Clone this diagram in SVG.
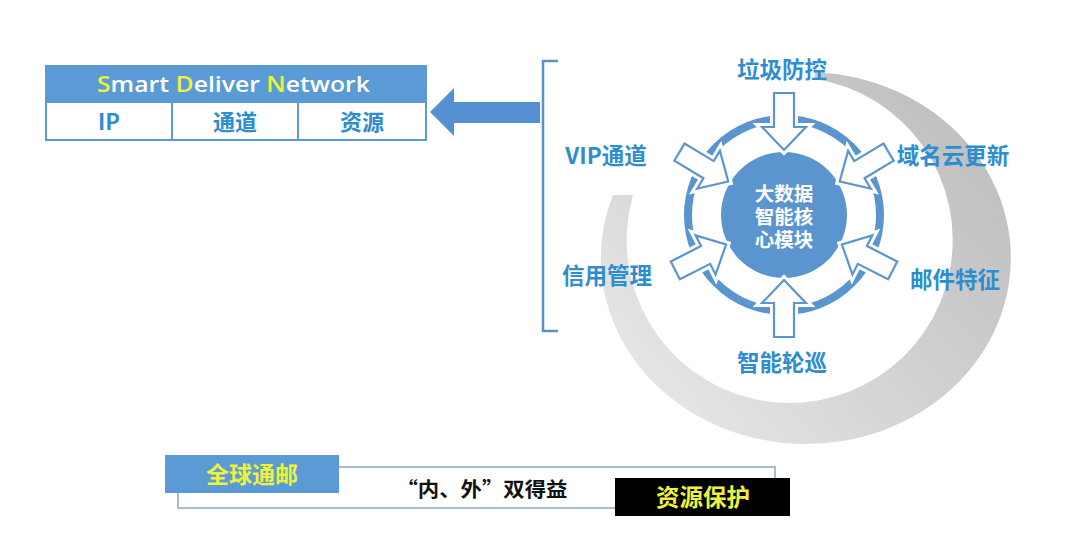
<svg xmlns="http://www.w3.org/2000/svg" xmlns:xlink="http://www.w3.org/1999/xlink" width="1080" height="547" viewBox="0 0 1080 547">
<style>
.cjk{font-family:"Noto Sans CJK SC","Noto Sans",sans-serif;font-weight:700}
.lbl{font-size:22.5px;fill:#2e8dd0;text-anchor:middle}
.cell{font-size:22px;fill:#2e8dd0;text-anchor:middle}
.core{font-size:19.5px;fill:#ffffff;text-anchor:middle}
.halo{fill:#ffffff;stroke:#ffffff;stroke-width:8;stroke-linejoin:miter}
.arr{fill:#ffffff;stroke:#5b95cf;stroke-width:2.2;stroke-linejoin:miter}
.blue{fill:#5b9bd5}
.ylw{fill:#eef23a}
</style>
<defs>
<linearGradient id="cres" gradientUnits="userSpaceOnUse" x1="1000" y1="120" x2="640" y2="440">
<stop offset="0" stop-color="#bdbdbd"/>
<stop offset="0.5" stop-color="#d2d2d2"/>
<stop offset="1" stop-color="#e9e9e9"/>
</linearGradient>
<path id="a" d="M-10,-57 L10,-57 L10,-23 L22,-23 L0,0 L-22,-23 L-10,-23 Z"/>
</defs>
<rect width="1080" height="547" fill="#ffffff"/>

<g id="crescent">
<path d="M815,72.2 A205,186 0 1 1 613,195 L633,195 A163,163 0 1 0 815,78.9 Z" fill="url(#cres)"/>
</g>

<g id="sdn-table">
<rect x="45" y="65" width="382" height="37" class="blue"/>
<rect x="46" y="102" width="380" height="38" fill="#ffffff" stroke="#5b9bd5" stroke-width="2"/>
<line x1="172" y1="102" x2="172" y2="140" stroke="#5b9bd5" stroke-width="2"/>
<line x1="298" y1="102" x2="298" y2="140" stroke="#5b9bd5" stroke-width="2"/>
<text x="97" y="92" textLength="273" lengthAdjust="spacingAndGlyphs" font-family="'Open Sans','DejaVu Sans',sans-serif" font-weight="600" font-size="22" fill="#ffffff"><tspan class="ylw">S</tspan>mart <tspan class="ylw">D</tspan>eliver <tspan class="ylw">N</tspan>etwork</text>
<text x="109" y="130" class="cjk cell">IP</text>
<text x="235" y="130" class="cjk cell">通道</text>
<text x="362" y="130" class="cjk cell">资源</text>
</g>

<g id="connectors">
<path d="M430,112 L454,88 L454,102 L540,102 L540,123 L454,123 L454,136 Z" fill="#5590d2"/>
<path d="M558,61 L543,61 L543,331 L558,331" fill="none" stroke="#5b8fc7" stroke-width="2.5"/>
</g>

<g id="core">
<circle cx="784" cy="215" r="96" fill="none" stroke="#5b95cf" stroke-width="8"/>
<circle cx="784" cy="215" r="63" fill="#5b95cf"/>
<text x="784" y="201" class="cjk core">大数据</text>
<text x="784" y="224" class="cjk core">智能核</text>
<text x="784" y="247" class="cjk core">心模块</text>
</g>

<g id="arrows">
<g transform="translate(784,215) rotate(0) translate(0,-65)"><use xlink:href="#a" class="halo"/><use xlink:href="#a" class="arr"/></g>
<g transform="translate(784,215) rotate(59) translate(0,-65)"><use xlink:href="#a" class="halo"/><use xlink:href="#a" class="arr"/></g>
<g transform="translate(784,215) rotate(117) translate(0,-65)"><use xlink:href="#a" class="halo"/><use xlink:href="#a" class="arr"/></g>
<g transform="translate(784,215) rotate(180) translate(0,-65)"><use xlink:href="#a" class="halo"/><use xlink:href="#a" class="arr"/></g>
<g transform="translate(784,215) rotate(243) translate(0,-65)"><use xlink:href="#a" class="halo"/><use xlink:href="#a" class="arr"/></g>
<g transform="translate(784,215) rotate(301) translate(0,-65)"><use xlink:href="#a" class="halo"/><use xlink:href="#a" class="arr"/></g>
</g>

<g id="labels">
<text x="782" y="78" class="cjk lbl">垃圾防控</text>
<text x="606" y="164" class="cjk lbl">VIP通道</text>
<text x="953" y="164" class="cjk lbl">域名云更新</text>
<text x="607" y="284" class="cjk lbl">信用管理</text>
<text x="955" y="288" class="cjk lbl">邮件特征</text>
<text x="782" y="371" class="cjk lbl">智能轮巡</text>
</g>

<g id="bottom">
<rect x="178" y="467" width="597" height="41" fill="#ffffff" stroke="#a9bccd" stroke-width="2"/>
<rect x="165" y="455" width="174" height="38" class="blue"/>
<text x="252" y="483" class="cjk" font-size="23" fill="#eef23a" text-anchor="middle">全球通邮</text>
<text x="482" y="497" class="cjk" font-size="20" fill="#111111" text-anchor="middle" textLength="171" lengthAdjust="spacingAndGlyphs">“内、外”双得益</text>
<rect x="615" y="478" width="175" height="38" fill="#000000"/>
<text x="703" y="506" class="cjk" font-size="23.5" fill="#eef23a" text-anchor="middle">资源保护</text>
</g>
</svg>
